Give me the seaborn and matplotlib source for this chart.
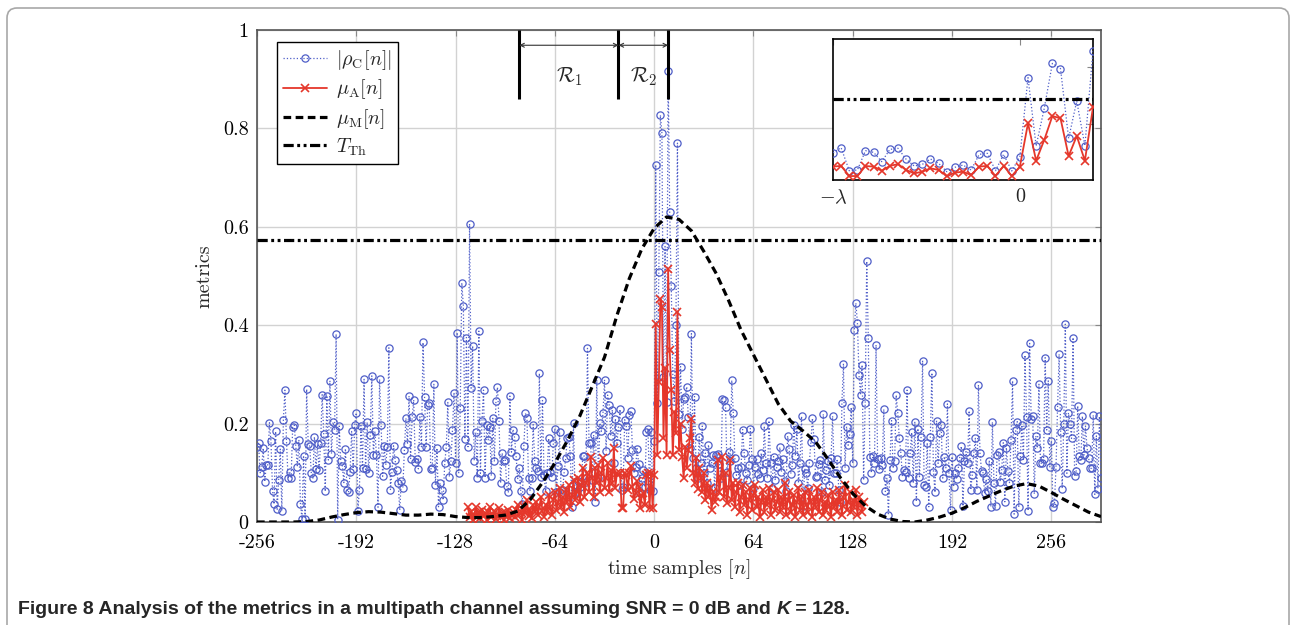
import numpy as np
import matplotlib
matplotlib.use("Agg")
import matplotlib.pyplot as plt
import seaborn as sns
from matplotlib.patches import FancyBboxPatch
from matplotlib.transforms import IdentityTransform

# ---------------- data ----------------
# |rho_C[n]| (one value per sample), split by region
rho_a_start = -256
rho_a = [0.153, 0.160, 0.100, 0.111, 0.150, 0.082, 0.116, 0.116, 0.202, 0.165,
         0.064, 0.036, 0.184, 0.026, 0.085, 0.148, 0.023, 0.207, 0.268, 0.165,
         0.089, 0.102, 0.089, 0.194, 0.197, 0.154, 0.112, 0.167, 0.036, 0.007,
         0.135, 0.007, 0.270, 0.158, 0.154, 0.099, 0.089, 0.173, 0.107, 0.158,
         0.106, 0.161, 0.259, 0.179, 0.062, 0.257, 0.126, 0.287, 0.139, 0.203,
         0.187, 0.382, 0.005, 0.195, 0.123, 0.114, 0.080, 0.149, 0.065, 0.060,
         0.102, 0.184, 0.108, 0.198, 0.222, 0.022, 0.066, 0.196, 0.109, 0.290,
         0.107, 0.203, 0.099, 0.177, 0.297, 0.136, 0.184, 0.136, 0.030, 0.290,
         0.197, 0.093, 0.154, 0.116, 0.153, 0.354, 0.066, 0.102, 0.155, 0.126,
         0.105, 0.080, 0.024, 0.084, 0.070, 0.146, 0.211, 0.158, 0.256, 0.129,
         0.213, 0.248, 0.121, 0.129, 0.108, 0.214, 0.153, 0.365, 0.255, 0.153,
         0.238, 0.241, 0.108]
rho_b_start = -143
rho_b = [0.109, 0.280, 0.075, 0.150, 0.031, 0.079, 0.065, 0.045, 0.119, 0.153,
         0.243, 0.092, 0.123, 0.188, 0.263, 0.120, 0.385, 0.099, 0.231, 0.486,
         0.440, 0.169, 0.375, 0.153, 0.606, 0.272, 0.358, 0.125, 0.182, 0.089,
         0.388, 0.099, 0.206, 0.268, 0.090, 0.197, 0.167, 0.194, 0.094, 0.211,
         0.123, 0.245, 0.274, 0.206, 0.079, 0.140, 0.123, 0.126, 0.073, 0.060,
         0.256, 0.142, 0.188, 0.172, 0.134, 0.087, 0.110, 0.064, 0.036, 0.155,
         0.221, 0.211, 0.089, 0.064, 0.089, 0.198, 0.123, 0.109, 0.104, 0.302,
         0.092, 0.247, 0.096, 0.062, 0.100, 0.170, 0.102, 0.092, 0.160, 0.190,
         0.060, 0.113, 0.182, 0.058, 0.065, 0.102, 0.130, 0.170, 0.172, 0.134,
         0.031, 0.201, 0.058, 0.064, 0.084, 0.072, 0.080, 0.134, 0.134, 0.082,
         0.353, 0.160, 0.161, 0.085, 0.177, 0.041, 0.289, 0.089, 0.201, 0.184,
         0.221, 0.289, 0.145, 0.258, 0.238, 0.175, 0.228, 0.120, 0.210, 0.160]
rho_c_start = -23
rho_c = [0.194, 0.229, 0.066, 0.071, 0.208, 0.196, 0.130, 0.217, 0.225, 0.147,
         0.099, 0.111, 0.149, 0.118, 0.059, 0.090, 0.106, 0.071, 0.182, 0.189,
         0.066, 0.182, 0.064, 0.165, 0.726, 0.241, 0.508, 0.827, 0.790, 0.295,
         0.560, 0.243, 0.917]
rho_d1_start = 10
rho_d1 = [0.630, 0.480, 0.300, 0.245, 0.400, 0.770, 0.220, 0.316, 0.190, 0.250,
          0.255, 0.275, 0.214, 0.150, 0.383, 0.130, 0.255, 0.110, 0.090, 0.173,
          0.120, 0.195, 0.100, 0.140, 0.080, 0.157, 0.110, 0.120, 0.136, 0.070,
          0.136]
rho_d2_start = 41
rho_d2 = [0.139, 0.118, 0.090, 0.251, 0.248, 0.234, 0.102, 0.143, 0.125, 0.288,
          0.221, 0.130, 0.095, 0.109, 0.075, 0.111, 0.188, 0.140, 0.100, 0.085,
          0.115, 0.190, 0.129, 0.070, 0.112, 0.129, 0.098, 0.089, 0.140, 0.106,
          0.195, 0.119, 0.090, 0.206, 0.119, 0.070, 0.133, 0.085, 0.112, 0.125,
          0.152, 0.102, 0.128, 0.084, 0.062, 0.175, 0.148, 0.098, 0.115, 0.197,
          0.135, 0.190, 0.079, 0.120, 0.215, 0.033, 0.108, 0.100, 0.070, 0.119,
          0.163, 0.211, 0.168, 0.092, 0.093, 0.118, 0.126, 0.060, 0.219, 0.085,
          0.105, 0.123, 0.075, 0.130, 0.215, 0.100, 0.100, 0.128, 0.065, 0.041,
          0.242, 0.322, 0.110, 0.194, 0.156, 0.178, 0.233, 0.119, 0.390, 0.445,
          0.405, 0.299, 0.258, 0.319, 0.085, 0.242, 0.530, 0.375, 0.133, 0.100,
          0.134, 0.120, 0.360, 0.129, 0.107, 0.130, 0.116, 0.229, 0.062, 0.090,
          0.014, 0.126, 0.206, 0.109, 0.125, 0.258, 0.222]
rho_d3_start = 158
rho_d3 = [0.170, 0.140, 0.092, 0.106, 0.102, 0.268, 0.089, 0.140, 0.182, 0.079,
          0.204, 0.041, 0.190, 0.092, 0.172, 0.328, 0.075, 0.072, 0.161, 0.031,
          0.173, 0.303, 0.102, 0.060, 0.206, 0.119, 0.180, 0.197, 0.089, 0.133,
          0.110,
          0.240, 0.099, 0.024, 0.133, 0.072, 0.099, 0.087, 0.109, 0.131, 0.154,
          0.032, 0.123, 0.143, 0.119, 0.226, 0.065, 0.095, 0.140, 0.170, 0.066,
          0.279, 0.140, 0.104, 0.100, 0.058, 0.087, 0.062, 0.125, 0.031, 0.203,
          0.080,
          0.032, 0.136, 0.143, 0.082, 0.106, 0.161, 0.041, 0.151, 0.104, 0.080,
          0.167, 0.287, 0.016, 0.187, 0.204, 0.030, 0.134, 0.197, 0.127, 0.339,
          0.214, 0.023, 0.363, 0.209, 0.215, 0.057, 0.175, 0.150, 0.280, 0.119,
          0.120,
          0.129, 0.334, 0.187, 0.287, 0.112, 0.165, 0.031, 0.038, 0.112, 0.233,
          0.341, 0.183, 0.068, 0.200, 0.402, 0.099, 0.222, 0.200, 0.170, 0.375,
          0.093, 0.104, 0.236, 0.134, 0.126, 0.215, 0.136, 0.195, 0.150, 0.131,
          0.109, 0.109, 0.217, 0.056, 0.175, 0.068, 0.215, 0.089]

# mu_A[n]
mua_a_start = -120
mua_a = [0.030, 0.010, 0.020, 0.005, 0.015, 0.030, 0.010, 0.020, 0.008, 0.025,
         0.012, 0.018, 0.005, 0.020, 0.030, 0.010, 0.015, 0.022, 0.006, 0.012,
         0.028, 0.010, 0.018, 0.004, 0.020, 0.012, 0.025, 0.008, 0.015, 0.020,
         0.010, 0.025, 0.035, 0.015, 0.020, 0.005, 0.030, 0.018, 0.045, 0.012,
         0.025, 0.008, 0.035, 0.020, 0.040, 0.015, 0.030, 0.050, 0.022, 0.010,
         0.035, 0.020, 0.055, 0.030, 0.015, 0.045, 0.060, 0.025, 0.040, 0.070,
         0.030, 0.050, 0.020, 0.065, 0.040, 0.075, 0.030, 0.055, 0.085, 0.045,
         0.060, 0.090, 0.040, 0.075, 0.110, 0.050, 0.080, 0.100, 0.060, 0.133,
         0.090, 0.050, 0.110, 0.080, 0.116, 0.060, 0.100, 0.130, 0.070, 0.090,
         0.120, 0.060, 0.105, 0.080, 0.150, 0.070, 0.100]
mua_c_start = -23
mua_c = [0.095, 0.100, 0.028, 0.028, 0.099, 0.095, 0.066, 0.100, 0.113, 0.071,
         0.047, 0.059, 0.083, 0.071, 0.028, 0.052, 0.059, 0.035, 0.095, 0.100,
         0.028, 0.100, 0.028, 0.095, 0.402, 0.137, 0.284, 0.454, 0.437, 0.170,
         0.312, 0.137, 0.515]
mua_d1_start = 10
mua_d1 = [0.350, 0.268, 0.136, 0.224, 0.180, 0.427, 0.146, 0.200, 0.133, 0.090,
          0.153, 0.110, 0.146, 0.170, 0.210, 0.100, 0.080, 0.130, 0.068, 0.110,
          0.090, 0.060, 0.100, 0.045, 0.080, 0.050, 0.070, 0.024, 0.060, 0.040,
          0.050]
mua_d2_start = 41
mua_d2 = [0.126, 0.060, 0.090, 0.133, 0.050, 0.100, 0.038, 0.070, 0.126, 0.045,
          0.080, 0.030, 0.060, 0.079, 0.020, 0.050, 0.075, 0.035, 0.060, 0.015,
          0.045, 0.070, 0.025, 0.055, 0.075, 0.030, 0.050, 0.010, 0.040, 0.065,
          0.020, 0.050, 0.035, 0.070, 0.015, 0.045, 0.060, 0.025, 0.040, 0.065,
          0.020, 0.050, 0.030, 0.080, 0.015, 0.045, 0.060, 0.020, 0.035, 0.055,
          0.010, 0.040, 0.070, 0.025, 0.050, 0.015, 0.060, 0.035, 0.020, 0.065,
          0.040, 0.010, 0.050, 0.030, 0.070, 0.020, 0.045, 0.060, 0.015, 0.040,
          0.025, 0.055, 0.035, 0.010, 0.060, 0.030, 0.045, 0.020, 0.065, 0.040,
          0.015, 0.050, 0.075, 0.025, 0.040, 0.060, 0.020, 0.045, 0.030, 0.065,
          0.015, 0.050, 0.035, 0.020, 0.040]

# mu_M[n] (read every 8 samples)
mum_n = [-256, -248, -240, -232, -224, -216, -208, -200, -192, -184, -176, -168,
         -160, -152, -144, -136, -128, -120, -112, -104, -96, -88, -80, -72,
         -64, -56, -48, -40, -32, -24, -16, -8, 0, 8, 16, 24, 32, 40, 48, 56,
         64, 72, 80, 88, 96, 104, 112, 120, 128, 136, 144, 152, 160, 168, 176,
         184, 192, 200, 208, 216, 224, 232, 240, 248, 256, 264, 272, 280, 288]
mum_v = [0.0, 0.0, 0.0, 0.0, 0.001, 0.004, 0.010, 0.015, 0.019, 0.021, 0.020,
         0.017, 0.014, 0.014, 0.016, 0.015, 0.011, 0.009, 0.009, 0.011, 0.014,
         0.022, 0.045, 0.080, 0.120, 0.165, 0.215, 0.275, 0.335, 0.420, 0.495,
         0.555, 0.597, 0.620, 0.615, 0.592, 0.550, 0.505, 0.450, 0.390, 0.340,
         0.290, 0.240, 0.205, 0.185, 0.163, 0.128, 0.090, 0.058, 0.033, 0.016,
         0.006, 0.001, 0.0, 0.004, 0.010, 0.018, 0.029, 0.042, 0.053, 0.064,
         0.073, 0.078, 0.073, 0.060, 0.046, 0.033, 0.020, 0.011]

T_TH = 0.5733
region_edges = [-87, -23, 9]
region_labels = [r"$\mathcal{R}_1$", r"$\mathcal{R}_2$"]
xtick_vals = [-256, -192, -128, -64, 0, 64, 128, 192, 256]
xtick_labels = ["-256", "-192", "-128", "-64", "0", "64", "128", "192", "256"]
ytick_vals = [0, 0.2, 0.4, 0.6, 0.8, 1.0]
ytick_labels = ["0", "0.2", "0.4", "0.6", "0.8", "1"]
inset_range = [-23, 9]
inset_xticks = [-23, 0]
inset_xlabels = [r"$-\lambda$", "0"]
legend_labels = [r"$|\rho_{\mathrm{C}}[n]|$", r"$\mu_{\mathrm{A}}[n]$",
                 r"$\mu_{\mathrm{M}}[n]$", r"$T_{\mathrm{Th}}$"]


def series(parts):
    ns, vs = [], []
    for start, vals in parts:
        ns.append(np.arange(start, start + len(vals)))
        vs.append(np.asarray(vals, dtype=float))
    return np.concatenate(ns), np.concatenate(vs)


rho_n, rho_v = series([(rho_a_start, rho_a), (rho_b_start, rho_b), (rho_c_start, rho_c),
                       (rho_d1_start, rho_d1), (rho_d2_start, rho_d2), (rho_d3_start, rho_d3)])
mua_n, mua_v = series([(mua_a_start, mua_a), (mua_c_start, mua_c),
                       (mua_d1_start, mua_d1), (mua_d2_start, mua_d2)])

# ---------------- style ----------------
sns.set_theme(style="white")
plt.rcParams["font.family"] = ["cmr10", "DejaVu Serif"]
plt.rcParams["mathtext.fontset"] = "cm"
plt.rcParams["axes.formatter.use_mathtext"] = True
plt.rcParams["axes.unicode_minus"] = False

BLUE = "#4f5ec8"
RED = "#e5372b"
W, H = 1294, 625

fig = plt.figure(figsize=(W / 100, H / 100), dpi=100)
fig.patch.set_facecolor("white")
ax = fig.add_axes([257 / W, 1 - 522 / H, 844 / W, 492 / H])


def draw_series(a, rn, rv, mn, mv, with_mu=True):
    sns.lineplot(x=rn, y=rv, ax=a, color=BLUE, lw=0.9, marker="o", markersize=5.2,
                 markerfacecolor="none", markeredgecolor=BLUE, markeredgewidth=0.9,
                 estimator=None, sort=False, zorder=3)
    a.get_lines()[-1].set_linestyle(":")
    lb = a.get_lines()[-1]
    sns.lineplot(x=mn, y=mv, ax=a, color=RED, lw=1.3, marker="x", markersize=5.5,
                 markeredgecolor=RED, markeredgewidth=1.2,
                 estimator=None, sort=False, zorder=4)
    lr = a.get_lines()[-1]
    lm = None
    if with_mu:
        sns.lineplot(x=mum_n, y=mum_v, ax=a, color="black", lw=2.3,
                     estimator=None, sort=False, zorder=5)
        lm = a.get_lines()[-1]
        lm.set_dashes((2.4, 1.4))
    lt = a.axhline(T_TH, color="black", lw=2.3, zorder=5)
    lt.set_dashes((3.2, 1.1, 0.9, 1.1, 0.9, 1.1))
    lt.set_dash_capstyle("butt")
    return lb, lr, lm, lt


lb, lr, lm, lt = draw_series(ax, rho_n, rho_v, mua_n, mua_v)

ax.set_xlim(-256, 288)
ax.set_ylim(0, 1)
ax.set_xticks(xtick_vals)
ax.set_xticklabels(xtick_labels)
ax.set_yticks(ytick_vals)
ax.set_yticklabels(ytick_labels)
ax.grid(True, color="#d2d2d2", lw=1.0, zorder=0)
ax.set_axisbelow(True)
for s in ax.spines.values():
    s.set_color("#555555")
    s.set_linewidth(1.2)
ax.tick_params(direction="in", length=4, width=0.8, color="#888888",
               top=True, right=True, labelsize=14.5, labelcolor="black")
ax.tick_params(axis="x", pad=8.5)
ax.tick_params(axis="y", pad=6)
ax.set_xlabel(r"time samples $[n]$", fontsize=14.5)
ax.xaxis.set_label_coords(0.5, -0.072)
ax.set_ylabel("metrics", fontsize=14.5)
ax.yaxis.set_label_coords(-0.052, 0.5)

# regions
for e in region_edges:
    ax.plot([e, e], [0.859, 1.0], color="black", lw=2.2, zorder=6, solid_capstyle="butt")
for (a0, a1), lab in zip([(region_edges[0], region_edges[1]), (region_edges[1], region_edges[2])],
                         region_labels):
    ax.annotate("", xy=(a1, 0.969), xytext=(a0, 0.969),
                arrowprops=dict(arrowstyle="<->", lw=0.8, color="#333333",
                                shrinkA=0, shrinkB=0, mutation_scale=7), zorder=6)
    ax.text((a0 + a1) / 2, 0.905, lab, ha="center", va="center", fontsize=15)

leg = ax.legend(handles=[lb, lr, lm, lt], labels=legend_labels, loc="upper left",
                bbox_to_anchor=(0.0237, 0.9756), borderaxespad=0, fontsize=14.5,
                frameon=True, fancybox=False, framealpha=1, edgecolor="black",
                handlelength=2.2, handletextpad=0.45, labelspacing=0.28, borderpad=0.3)
leg.get_frame().set_linewidth(1.0)
leg.set_zorder(10)

# inset
ins = fig.add_axes([833 / W, 1 - 180 / H, 260 / W, 141 / H])
ins.set_facecolor("white")
sel_r = (rho_n >= inset_range[0]) & (rho_n <= inset_range[1])
sel_m = (mua_n >= inset_range[0]) & (mua_n <= inset_range[1])
draw_series(ins, rho_n[sel_r], rho_v[sel_r], mua_n[sel_m], mua_v[sel_m], with_mu=False)
ins.set_xlim(inset_range)
ins.set_ylim(0, 1)
ins.set_xticks(inset_xticks)
ins.set_xticklabels(inset_xlabels)
ins.set_yticks([0.4, 0.8])
ins.set_yticklabels([])
ins.set_xlabel("")
ins.set_ylabel("")
ins.grid(False)
for s in ins.spines.values():
    s.set_color("black")
    s.set_linewidth(1.2)
ins.tick_params(direction="in", length=4, width=0.8, color="#888888",
                top=True, right=True, labelsize=14.5, pad=6)
if ins.get_legend():
    ins.get_legend().remove()

# border
border = FancyBboxPatch((7, -30), 1282, 647, boxstyle="round,pad=0,rounding_size=10",
                        transform=IdentityTransform(), facecolor="none",
                        edgecolor="#a8a8a8", lw=1.2)
fig.add_artist(border)

# caption
cap_font = ["Liberation Sans Narrow", "Liberation Sans", "DejaVu Sans"]
fig.canvas.draw()
r = fig.canvas.get_renderer()
x0 = 18 / W
yb = 11 / H
t1 = fig.text(x0, yb, "Figure 8 Analysis of the metrics in a multipath channel assuming SNR = 0 dB and ",
              fontsize=14, weight="bold", family=cap_font, va="baseline")
bb = t1.get_window_extent(r)
t2 = fig.text(bb.x1 / W, yb, "K", fontsize=14, weight="bold", style="italic",
              family=cap_font, va="baseline")
bb2 = t2.get_window_extent(r)
fig.text(bb2.x1 / W, yb, " = 128.", fontsize=14, weight="bold", family=cap_font, va="baseline")

fig.savefig("out.png", dpi=100)
